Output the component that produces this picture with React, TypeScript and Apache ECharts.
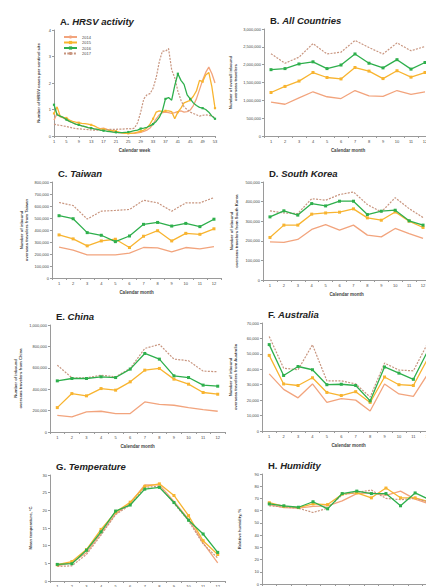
import React, { useEffect, useRef } from "react";
import * as echarts from "echarts";

const weeks = Array.from({ length: 53 }, (_, i) => String(i + 1));
const months = ["1", "2", "3", "4", "5", "6", "7", "8", "9", "10", "11", "12"];
const years = ["2014", "2015", "2016", "2017"];

// A. HRSV activity (cases per sentinel site, weeks 1..53)
const hrsv2014 = [0.6, 0.85, 0.72, 0.68, 0.62, 0.55, 0.5, 0.45, 0.42, 0.38, 0.35, 0.32, 0.3, 0.27, 0.25, 0.28, 0.3, 0.25, 0.2, 0.17, 0.15, 0.13, 0.12, 0.1, 0.1, 0.1, 0.1, 0.12, 0.14, 0.17, 0.22, 0.3, 0.45, 0.65, 0.8, 0.88, 0.9, 0.88, 0.85, 0.88, 0.92, 0.95, 0.9, 0.92, 0.98, 1.15, 1.4, 1.75, 2.1, 2.4, 2.6, 2.35, 2.0];
const hrsv2015 = [0.85, 1.1, 0.75, 0.7, 0.68, 0.6, 0.55, 0.52, 0.5, 0.48, 0.47, 0.45, 0.42, 0.38, 0.32, 0.27, 0.25, 0.25, 0.22, 0.2, 0.18, 0.15, 0.12, 0.1, 0.1, 0.1, 0.12, 0.15, 0.18, 0.22, 0.3, 0.45, 0.65, 0.9, 0.95, 0.92, 0.95, 0.95, 0.92, 0.65, 0.9, 1.05, 1.25, 1.3, 1.35, 1.5, 1.7, 2.1, 2.05, 2.3, 2.4, 1.85, 1.05];
const hrsv2016 = [1.18, 0.8, 0.75, 0.7, 0.62, 0.55, 0.5, 0.45, 0.42, 0.38, 0.35, 0.32, 0.3, 0.27, 0.25, 0.22, 0.2, 0.18, 0.17, 0.15, 0.14, 0.13, 0.13, 0.14, 0.15, 0.17, 0.2, 0.22, 0.28, 0.3, 0.33, 0.38, 0.45, 0.55, 0.7, 0.95, 1.4, 1.45, 1.35, 1.9, 2.35, 2.1, 1.95, 1.55, 1.4, 1.25, 1.15, 1.08, 1.05, 1.0, 0.9, 0.75, 0.65];
const hrsv2017 = [0.45, 0.42, 0.4, 0.38, 0.36, 0.33, 0.3, 0.28, 0.27, 0.26, 0.25, 0.24, 0.23, 0.22, 0.22, 0.21, 0.22, 0.24, 0.25, 0.25, 0.25, 0.26, 0.26, 0.27, 0.28, 0.27, 0.3, 0.5, 0.9, 1.4, 1.55, 1.6, 1.8, 2.2, 2.8, 3.2, 3.2, 3.3, 2.5, 2.2, 1.7, 1.35, 1.1, 1.0, 0.9, 0.85, 0.8, 0.75, 0.78, 0.8, 0.78, 0.75, 0.7];

// B. All countries
const all2014 = [950000, 890000, 1070000, 1240000, 1100000, 1050000, 1275000, 1125000, 1110000, 1275000, 1170000, 1240000];
const all2015 = [1220000, 1390000, 1540000, 1780000, 1640000, 1600000, 1920000, 1820000, 1610000, 1830000, 1650000, 1780000];
const all2016 = [1860000, 1890000, 2020000, 2080000, 1890000, 1990000, 2300000, 2040000, 1910000, 2140000, 1875000, 2060000];
const all2017 = [2306000, 2040000, 2210000, 2590000, 2300000, 2350000, 2680000, 2480000, 2300000, 2610000, 2390000, 2510000];

// C. Taiwan
const tw2014 = [257000, 232000, 193000, 193000, 193000, 207000, 254000, 251000, 218000, 254000, 243000, 262000];
const tw2015 = [359000, 326000, 268000, 309000, 323000, 254000, 348000, 394000, 309000, 372000, 364000, 410000];
const tw2016 = [519000, 494000, 378000, 356000, 303000, 350000, 447000, 463000, 433000, 455000, 428000, 490000];
const tw2017 = [629000, 604000, 491000, 557000, 563000, 571000, 648000, 626000, 557000, 626000, 626000, 670000];

// D. South Korea
const kr2014 = [195000, 192000, 207000, 258000, 283000, 254000, 280000, 229000, 220000, 263000, 237000, 212000];
const kr2015 = [217000, 280000, 280000, 336000, 342000, 346000, 363000, 317000, 305000, 347000, 300000, 268000];
const kr2016 = [322000, 353000, 331000, 390000, 378000, 402000, 402000, 334000, 351000, 356000, 302000, 280000];
const kr2017 = [353000, 342000, 339000, 415000, 407000, 436000, 449000, 385000, 347000, 420000, 364000, 319000];

// E. China
const cn2014 = [156000, 141000, 188000, 194000, 172000, 172000, 281000, 259000, 250000, 228000, 209000, 194000];
const cn2015 = [228000, 359000, 338000, 406000, 391000, 469000, 578000, 594000, 494000, 447000, 369000, 353000];
const cn2016 = [478000, 500000, 500000, 516000, 509000, 588000, 734000, 681000, 525000, 509000, 438000, 428000];
const cn2017 = [625000, 506000, 506000, 531000, 516000, 594000, 781000, 819000, 681000, 666000, 569000, 563000];

// F. Australia
const au2014 = [37000, 27000, 21500, 30500, 18500, 21000, 20000, 13000, 30500, 24000, 22500, 37000];
const au2015 = [49000, 30500, 29500, 34500, 25000, 23000, 25500, 18500, 35000, 30000, 29500, 47000];
const au2016 = [56000, 36000, 41800, 39700, 30000, 30300, 29500, 19500, 41500, 37500, 33500, 52000];
const au2017 = [61300, 40700, 39700, 55900, 32500, 32500, 30500, 22000, 44000, 39500, 39000, 57000];

// G. Temperature
const temp2014 = [4.3, 5.2, 8.0, 13.5, 19.0, 22.0, 27.2, 27.2, 22.5, 17.5, 10.8, 5.1];
const temp2015 = [4.6, 5.5, 8.9, 14.6, 19.5, 22.3, 26.8, 27.5, 24.2, 18.5, 11.4, 7.5];
const temp2016 = [4.7, 4.9, 8.7, 13.9, 19.8, 21.5, 26.0, 26.5, 22.2, 17.2, 13.3, 8.1];
const temp2017 = [4.1, 4.3, 7.5, 13.0, 18.8, 21.5, 26.5, 26.8, 22.0, 17.0, 10.5, 6.5];

// H. Humidity
const hum2014 = [65, 62.5, 62, 63.5, 64, 68, 74, 74.5, 72.5, 76, 69.5, 65.5];
const hum2015 = [66.5, 63.5, 62.5, 65.5, 65, 73.5, 74.5, 70.5, 78.5, 70.5, 70.5, 67];
const hum2016 = [65.5, 64, 62.8, 67.3, 61.5, 74, 76, 74, 74, 64, 74.5, 69];
const hum2017 = [64, 63, 62, 58.5, 62, 73, 75, 76.8, 70, 69, 70, 67];

const FONT = '"Liberation Sans", Arial, Helvetica, sans-serif';
const COLORS = ["#F2A47D", "#F8B430", "#2EAF4C", "#C8957F"];
const AXIS = "#9a9a9a";
const LABEL = "#444";

const fmt = (v: number) => Number(v).toLocaleString("en-US");

type Panel = {
  letter: string;
  title: string;
  cats: string[];
  data: number[][];
  max: number;
  interval: number;
  yName: string;
  xName: string | null;
  grid: { left: number; top: number; width: number; height: number };
  yGap: number;
  weekly?: boolean;
};

const panels: Panel[] = [
  { letter: "A.", title: "HRSV activity", cats: weeks, data: [hrsv2014, hrsv2015, hrsv2016, hrsv2017], max: 4, interval: 1, yName: "Number of HRSV cases per sentinel site", xName: "Calendar week", grid: { left: 54, top: 30, width: 161, height: 106 }, yGap: 13, weekly: true },
  { letter: "B.", title: "All Countries", cats: months, data: [all2014, all2015, all2016, all2017], max: 3000000, interval: 500000, yName: "Number of overall inbound\noverseas travelers", xName: "Calendar month", grid: { left: 264, top: 29, width: 168, height: 107 }, yGap: 26 },
  { letter: "C.", title: "Taiwan", cats: months, data: [tw2014, tw2015, tw2016, tw2017], max: 800000, interval: 100000, yName: "Number of inbound\noverseas travelers from Taiwan", xName: "Calendar month", grid: { left: 52, top: 182, width: 169, height: 96 }, yGap: 23 },
  { letter: "D.", title: "South Korea", cats: months, data: [kr2014, kr2015, kr2016, kr2017], max: 500000, interval: 100000, yName: "Number of inbound\noverseas travelers from South Korea", xName: "Calendar month", grid: { left: 263, top: 182, width: 167, height: 98 }, yGap: 24 },
  { letter: "E.", title: "China", cats: months, data: [cn2014, cn2015, cn2016, cn2017], max: 1000000, interval: 200000, yName: "Number of inbound\noverseas travelers from China", xName: "Calendar month", grid: { left: 50, top: 325, width: 175, height: 107 }, yGap: 27 },
  { letter: "F.", title: "Australia", cats: months, data: [au2014, au2015, au2016, au2017], max: 70000, interval: 10000, yName: "Number of inbound\noverseas travelers from Australia", xName: "Calendar month", grid: { left: 262, top: 323, width: 173, height: 108 }, yGap: 24 },
  { letter: "G.", title: "Temperature", cats: months, data: [temp2014, temp2015, temp2016, temp2017], max: 30, interval: 5, yName: "Mean temperature, °C", xName: null, grid: { left: 50, top: 475, width: 175, height: 106 }, yGap: 17 },
  { letter: "H.", title: "Humidity", cats: months, data: [hum2014, hum2015, hum2016, hum2017], max: 90, interval: 10, yName: "Relative humidity, %", xName: null, grid: { left: 262, top: 474, width: 175, height: 110 }, yGap: 20 },
];

function buildOption() {
  const grid: any[] = [];
  const xAxis: any[] = [];
  const yAxis: any[] = [];
  const series: any[] = [];
  const title: any[] = [];

  panels.forEach((p, i) => {
    grid.push({ ...p.grid, containLabel: false });
    title.push({
      text: `{a|${p.letter} }{b|${p.title}}`,
      left: p.grid.left + 1,
      top: p.grid.top - 19,
      textStyle: {
        rich: {
          a: { fontFamily: FONT, fontSize: 9.5, fontWeight: "bold", color: "#222" },
          b: { fontFamily: FONT, fontSize: 9.5, fontWeight: "bold", fontStyle: "italic", color: "#222" },
        },
      },
    });
    xAxis.push({
      type: "category",
      gridIndex: i,
      data: p.cats,
      boundaryGap: !p.weekly,
      name: p.xName || undefined,
      nameLocation: "middle",
      nameGap: 12,
      nameTextStyle: { fontFamily: FONT, fontSize: 4.5, fontWeight: "bold", color: LABEL },
      axisLine: { lineStyle: { color: AXIS, width: 1 } },
      axisTick: { show: true, length: 2, lineStyle: { color: AXIS }, interval: p.weekly ? 3 : 0 },
      axisLabel: { fontFamily: FONT, fontSize: 4, color: LABEL, margin: 3, interval: p.weekly ? 3 : 0 },
      splitLine: { show: false },
    });
    yAxis.push({
      type: "value",
      gridIndex: i,
      min: 0,
      max: p.max,
      interval: p.interval,
      name: p.yName,
      nameLocation: "middle",
      nameGap: p.yGap,
      nameTextStyle: { fontFamily: FONT, fontSize: 4.2, fontWeight: "bold", color: LABEL, lineHeight: 5 },
      axisLine: { show: true, lineStyle: { color: AXIS, width: 1 } },
      axisTick: { show: true, length: 2, lineStyle: { color: AXIS } },
      axisLabel: { fontFamily: FONT, fontSize: 4, color: LABEL, margin: 3, formatter: fmt },
      splitLine: { show: false },
    });
    const order = [0, 1, 3, 2];
    order.forEach((k) => {
      const marker = k === 1 || k === 2;
      series.push({
        type: "line",
        name: years[k],
        xAxisIndex: i,
        yAxisIndex: i,
        data: p.data[k],
        color: COLORS[k],
        symbol: marker ? "rect" : "none",
        symbolSize: p.weekly ? 2.2 : 3,
        showSymbol: marker,
        lineStyle: {
          color: COLORS[k],
          width: k === 3 ? 1.2 : 1.3,
          type: k === 3 ? [2, 1.3] : "solid",
        },
        itemStyle: { color: COLORS[k] },
        z: k === 2 ? 4 : 3,
      });
    });
  });

  return {
    animation: false,
    backgroundColor: "#fff",
    title,
    legend: {
      data: years,
      orient: "vertical",
      left: 58,
      top: 30,
      itemWidth: 13,
      itemHeight: 4,
      itemGap: 1.5,
      textStyle: { fontFamily: FONT, fontSize: 4, color: LABEL },
      selectedMode: false,
    },
    grid,
    xAxis,
    yAxis,
    series,
  };
}

export default function App() {
  const ref = useRef<HTMLDivElement>(null);
  useEffect(() => {
    if (!ref.current) return;
    const chart = echarts.init(ref.current, undefined, { renderer: "svg" });
    chart.setOption(buildOption() as any);
    return () => chart.dispose();
  }, []);
  return (
    <div style={{ position: "fixed", left: 0, top: 0, width: 426, height: 587, overflow: "hidden", background: "#fff" }}>
      <div ref={ref} style={{ width: 445, height: 600 }} />
    </div>
  );
}
